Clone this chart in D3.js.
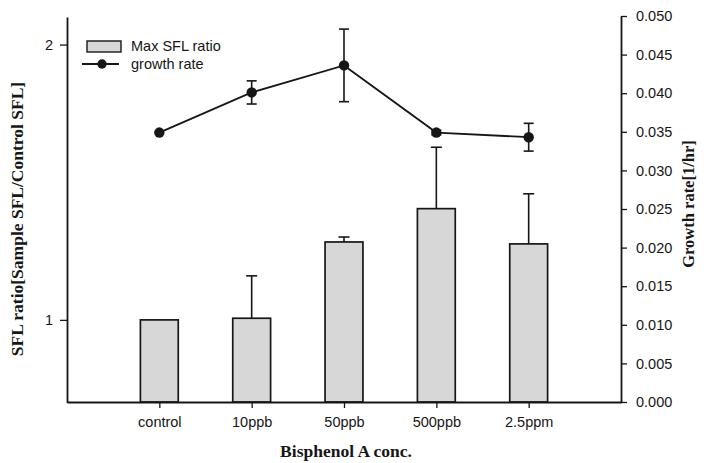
<!DOCTYPE html>
<html>
<head>
<meta charset="utf-8">
<script src="https://cdn.jsdelivr.net/npm/d3@7"></script>
<style>
  html, body { margin: 0; padding: 0; background: #fff; }
  svg { display: block; }
</style>
</head>
<body>
<svg id="chart" width="704" height="463"></svg>
<script>
// ---- data ----
const categories = ["control", "10ppb", "50ppb", "500ppb", "2.5ppm"];
const sflRatio   = [1.0, 1.006, 1.283, 1.404, 1.276];
const sflErr     = [0, 0.154, 0.018, 0.223, 0.182];
const growthRate = [0.0349, 0.0401, 0.0436, 0.0349, 0.0343];
const growthErr  = [0, 0.0015, 0.0047, 0.0003, 0.0018];
const leftTicks  = [1, 2];
const rightTicks = [0, 0.005, 0.010, 0.015, 0.020, 0.025, 0.030, 0.035, 0.040, 0.045, 0.050];
const legendLabels = ["Max SFL ratio", "growth rate"];
const xTitle = "Bisphenol A conc.";
const yLeftTitle = "SFL ratio[Sample SFL/Control SFL]";
const yRightTitle = "Growth rate[1/hr]";

// ---- layout ----
const svg = d3.select("#chart");
const plotLeft = 67, plotRight = 621, plotTop = 17, plotBottom = 402;
const sans = "'Liberation Sans', Arial, sans-serif";
const serif = "'Liberation Serif', 'Times New Roman', serif";
const barFill = "#d7d7d7";
const ink = "#161616";

const x = d3.scalePoint().domain(categories).range([plotLeft, plotRight]).padding(1);
const yL = d3.scaleLinear().domain([0.7, 2.1]).range([plotBottom + 0.5, plotTop]);
const yR = d3.scaleLinear().domain([0, 0.05]).range([plotBottom, plotTop - 1]);
const barW = x.step() * 0.41;

// bars
svg.append("g").selectAll("rect").data(categories).join("rect")
  .attr("x", d => x(d) - barW / 2)
  .attr("y", (d, i) => yL(sflRatio[i]))
  .attr("width", barW)
  .attr("height", (d, i) => plotBottom - yL(sflRatio[i]))
  .attr("fill", barFill)
  .attr("stroke", ink)
  .attr("stroke-width", 1.7);

// bar error bars (upper only)
const be = svg.append("g").attr("stroke", ink).attr("stroke-width", 1.6);
categories.forEach((c, i) => {
  if (sflErr[i] <= 0) return;
  const y0 = yL(sflRatio[i]), y1 = yL(sflRatio[i] + sflErr[i]);
  be.append("line").attr("x1", x(c)).attr("x2", x(c)).attr("y1", y0).attr("y2", y1);
  be.append("line").attr("x1", x(c) - 5.5).attr("x2", x(c) + 5.5).attr("y1", y1).attr("y2", y1);
});

// growth line
const line = d3.line().x((d, i) => x(categories[i])).y(d => yR(d));
svg.append("path").datum(growthRate)
  .attr("d", line).attr("fill", "none").attr("stroke", ink).attr("stroke-width", 1.8);

const ge = svg.append("g").attr("stroke", ink).attr("stroke-width", 1.6);
categories.forEach((c, i) => {
  if (growthErr[i] <= 0) return;
  const yt = yR(growthRate[i] + growthErr[i]), yb = yR(growthRate[i] - growthErr[i]);
  ge.append("line").attr("x1", x(c)).attr("x2", x(c)).attr("y1", yt).attr("y2", yb);
  [yt, yb].forEach(yy => ge.append("line").attr("x1", x(c) - 5).attr("x2", x(c) + 5).attr("y1", yy).attr("y2", yy));
});

svg.append("g").selectAll("circle").data(growthRate).join("circle")
  .attr("cx", (d, i) => x(categories[i]))
  .attr("cy", d => yR(d))
  .attr("r", 5.2)
  .attr("fill", ink);

// axes
function styleAxis(g, size) {
  g.selectAll("path.domain").attr("stroke", ink).attr("stroke-width", 1.8);
  g.selectAll(".tick line").attr("stroke", ink).attr("stroke-width", 1.3);
  g.selectAll(".tick text").attr("fill", ink).style("font-family", sans).style("font-size", size + "px");
}

const gx = svg.append("g").attr("transform", `translate(0,${plotBottom})`)
  .call(d3.axisBottom(x).tickSize(6).tickSizeOuter(0).tickPadding(9));
styleAxis(gx, 14.5);

const gl = svg.append("g").attr("transform", `translate(${plotLeft},0)`)
  .call(d3.axisLeft(yL).tickValues(leftTicks).tickFormat(d3.format("d")).tickSize(7).tickSizeOuter(0).tickPadding(7));
styleAxis(gl, 14.5);

const gr = svg.append("g").attr("transform", `translate(${plotRight},0)`)
  .call(d3.axisRight(yR).tickValues(rightTicks).tickFormat(d3.format(".3f")).tickSize(6).tickSizeOuter(0).tickPadding(9));
styleAxis(gr, 14.5);

// titles
svg.append("text")
  .attr("x", 346).attr("y", 451)
  .attr("text-anchor", "middle").attr("dominant-baseline", "central")
  .style("font-family", serif).style("font-weight", "bold").style("font-size", "17.5px")
  .attr("fill", ink).text(xTitle);

svg.append("text")
  .attr("transform", "translate(17,219) rotate(-90)")
  .attr("text-anchor", "middle").attr("dominant-baseline", "central")
  .style("font-family", serif).style("font-weight", "bold").style("font-size", "17.5px")
  .attr("fill", ink).text(yLeftTitle);

svg.append("text")
  .attr("transform", "translate(688,204) rotate(-90)")
  .attr("text-anchor", "middle").attr("dominant-baseline", "central")
  .style("font-family", serif).style("font-weight", "bold").style("font-size", "16.5px")
  .attr("fill", ink).text(yRightTitle);

// legend
const lg = svg.append("g");
lg.append("rect").attr("x", 87).attr("y", 41).attr("width", 34).attr("height", 11)
  .attr("fill", barFill).attr("stroke", ink).attr("stroke-width", 1.4);
lg.append("line").attr("x1", 82).attr("x2", 119).attr("y1", 64).attr("y2", 64)
  .attr("stroke", ink).attr("stroke-width", 1.8);
lg.append("circle").attr("cx", 102).attr("cy", 64).attr("r", 4.7).attr("fill", ink);
legendLabels.forEach((t, i) => {
  lg.append("text").attr("x", 131).attr("y", 46 + i * 17.5)
    .attr("dominant-baseline", "central")
    .style("font-family", sans).style("font-size", "14.5px")
    .attr("fill", ink).text(t);
});
</script>
</body>
</html>
